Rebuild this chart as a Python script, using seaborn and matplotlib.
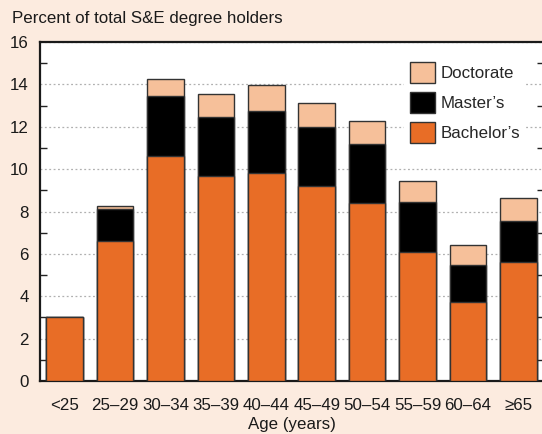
import matplotlib
matplotlib.use("Agg")
import matplotlib.pyplot as plt
import seaborn as sns
import pandas as pd
from matplotlib.patches import Patch

ages = ["<25", "25–29", "30–34", "35–39", "40–44", "45–49", "50–54", "55–59", "60–64", "≥65"]
bachelors = [3.0, 6.6, 10.62, 9.67, 9.82, 9.2, 8.38, 6.09, 3.74, 5.6]
masters = [0.0, 1.5, 2.85, 2.8, 2.94, 2.79, 2.79, 2.34, 1.72, 1.94]
doctorate = [0.0, 0.14, 0.8, 1.07, 1.21, 1.13, 1.1, 1.02, 0.94, 1.11]

c_bach = "#E86D26"
c_mast = "#000000"
c_doc = "#F6C09A"
bg = "#FCEBDF"

df = pd.DataFrame({"age": ages, "bach": bachelors, "mast": masters, "doc": doctorate})
df["bm"] = df["bach"] + df["mast"]
df["total"] = df["bm"] + df["doc"]

sns.set_style("white")
plt.rcParams["font.family"] = ["Liberation Sans", "DejaVu Sans"]

fs = 12.2
fig = plt.figure(figsize=(5.42, 4.34), dpi=100, facecolor=bg)
ax = fig.add_axes([40/542, 53/434, 504/542, 339/434])
ax.set_facecolor("white")

kw = dict(width=0.73, edgecolor="#333333", linewidth=1.0, ax=ax, zorder=3)
sns.barplot(data=df, x="age", y="total", color=c_doc, saturation=1, **kw)
sns.barplot(data=df, x="age", y="bm", color=c_mast, saturation=1, **kw)
sns.barplot(data=df, x="age", y="bach", color=c_bach, saturation=1, **kw)

ax.set_xlim(-0.49, 9.51)
ax.set_ylim(0, 16)
ax.set_yticks(range(0, 17, 2))
ax.set_yticks(range(1, 17, 2), minor=True)
ax.tick_params(axis="y", which="major", length=0, labelsize=fs, pad=8, colors="#1a1a1a")
ax.tick_params(axis="y", which="minor", length=5, width=1, direction="in", left=True, right=True, color="#222222")
ax.tick_params(axis="x", length=0, labelsize=fs, pad=12, colors="#1a1a1a")
ax.yaxis.grid(True, which="major", linestyle=(0, (1.5, 2)), color="#b0b0b0", linewidth=0.9, zorder=0)
ax.set_axisbelow(True)

for s in ["left", "bottom", "top", "right"]:
    ax.spines[s].set_visible(True)
    ax.spines[s].set_color("#1a1a1a")
    ax.spines[s].set_linewidth(1.6)

ax.set_xlabel("Age (years)", fontsize=fs, labelpad=3, color="#1a1a1a")
ax.set_ylabel("")
fig.text(12/542, 1 - 18/434, "Percent of total S&E degree holders", fontsize=fs,
         va="center", ha="left", color="#1a1a1a")

handles = [Patch(facecolor=c_doc, edgecolor="#333333", label="Doctorate"),
           Patch(facecolor=c_mast, edgecolor="#333333", label="Master’s"),
           Patch(facecolor=c_bach, edgecolor="#333333", label="Bachelor’s")]
leg = ax.legend(handles=handles, loc="upper left", bbox_to_anchor=(356/504, 0.98),
                fontsize=fs, frameon=True, facecolor="white", edgecolor="none",
                framealpha=1, handlelength=1.5, handleheight=1.5, handletextpad=0.35,
                labelspacing=0.55, borderpad=0.3)
leg.set_zorder(5)

fig.savefig("out.png", dpi=100, facecolor=bg)
